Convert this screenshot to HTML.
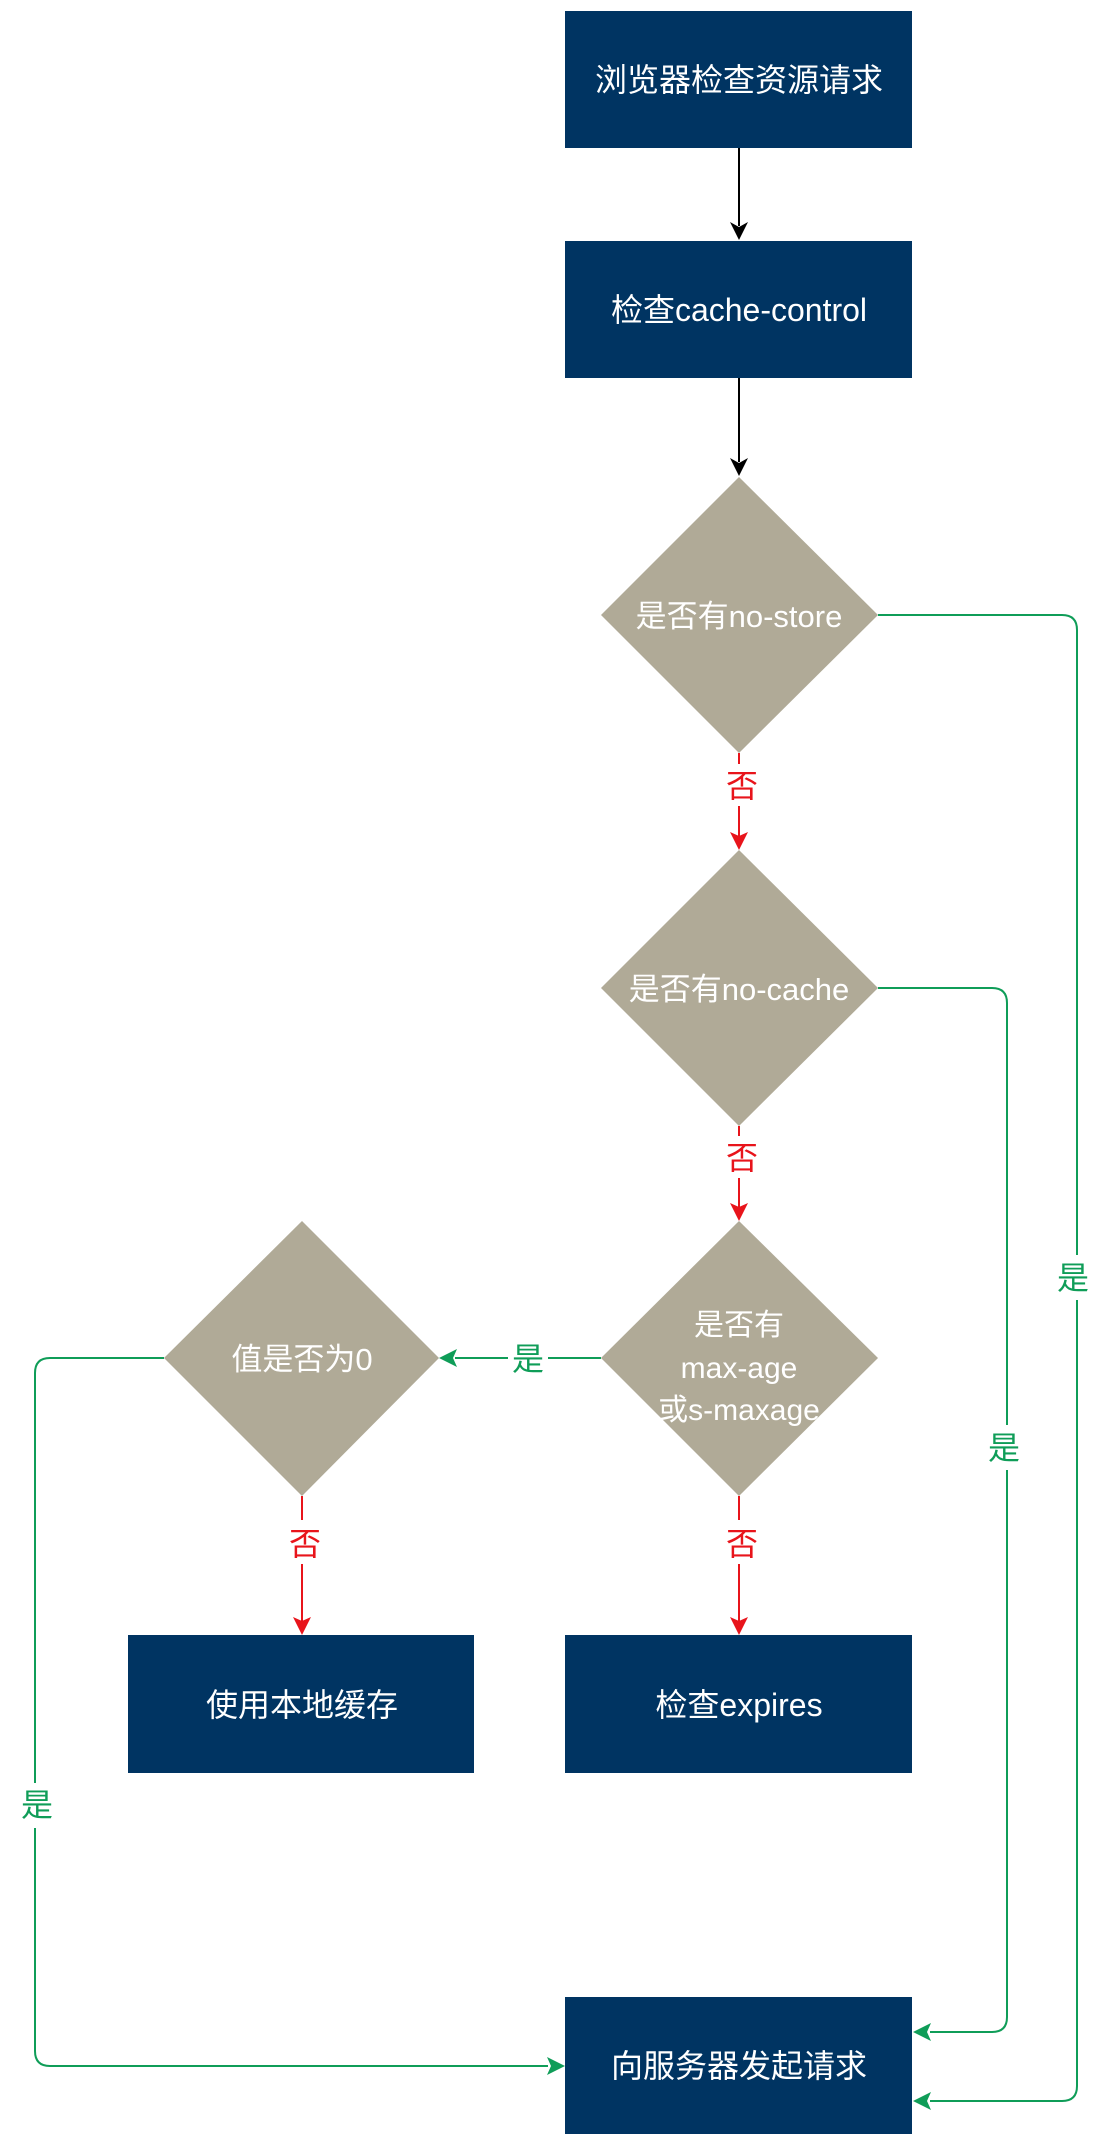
<!DOCTYPE html>
<html><head><meta charset="utf-8"><style>
html,body{margin:0;padding:0;background:#fff;}
svg{display:block;}
text{font-family:"Liberation Sans","Noto Sans CJK SC",sans-serif;}
</style></head><body>
<svg width="1098" height="2134" viewBox="0 0 1098 2134" xmlns="http://www.w3.org/2000/svg">
<g fill="#003462">
<rect x="565" y="11" width="347" height="137"/>
<rect x="565" y="241" width="347" height="137"/>
<rect x="128" y="1635" width="346" height="138"/>
<rect x="565" y="1635" width="347" height="138"/>
<rect x="565" y="1997" width="347" height="137"/>
</g>
<g fill="#b0aa97">
<polygon points="739,477 878,615 739,753 601,615"/>
<polygon points="739,850 878,988 739,1126 601,988"/>
<polygon points="739,1221 878,1358 739,1496 601,1358"/>
<polygon points="302,1221 439,1358 302,1496 164,1358"/>
</g>
<g stroke="#000" stroke-width="2" fill="none">
<line x1="739" y1="148" x2="739" y2="226"/>
<line x1="739" y1="378" x2="739" y2="462"/>
</g>
<polygon points="730,222 739,240 748,222 739,227" fill="#000"/>
<polygon points="730,458 739,476 748,458 739,463" fill="#000"/>
<g stroke="#e8141b" stroke-width="2" fill="none">
<line x1="739" y1="753" x2="739" y2="764"/><line x1="739" y1="806" x2="739" y2="836"/>
<line x1="739" y1="1126" x2="739" y2="1136"/><line x1="739" y1="1178" x2="739" y2="1207"/>
<line x1="739" y1="1496" x2="739" y2="1520"/><line x1="739" y1="1564" x2="739" y2="1621"/>
<line x1="302" y1="1496" x2="302" y2="1520"/><line x1="302" y1="1564" x2="302" y2="1621"/>
</g>
<g fill="#e8141b">
<polygon points="730,832 739,850 748,832 739,836"/>
<polygon points="730,1203 739,1221 748,1203 739,1207"/>
<polygon points="730,1617 739,1635 748,1617 739,1621"/>
<polygon points="293,1617 302,1635 311,1617 302,1621"/>
</g>
<g stroke="#0f9d58" stroke-width="2" fill="none">
<path d="M878,615 H1062 Q1077,615 1077,630 V1255"/>
<path d="M1077,1300 V2086 Q1077,2101 1062,2101 H930"/>
<path d="M878,988 H992 Q1007,988 1007,1003 V1425"/>
<path d="M1007,1470 V2017 Q1007,2032 992,2032 H930"/>
<path d="M601,1358 H548"/>
<path d="M508,1358 H455"/>
<path d="M164,1358 H50 Q35,1358 35,1373 V1783"/>
<path d="M35,1828 V2051 Q35,2066 50,2066 H548"/>
</g>
<g fill="#0f9d58">
<polygon points="913,2101 931,2092 927,2101 931,2110"/>
<polygon points="913,2032 931,2023 927,2032 931,2041"/>
<polygon points="439,1358 457,1349 453,1358 457,1367"/>
<polygon points="565,2066 547,2057 551,2066 547,2075"/>
</g>
<g fill="#fff" font-size="32" text-anchor="middle">
<text x="739" y="91">浏览器检查资源请求</text>
<text x="739" y="321">检查cache-control</text>
<text x="739" y="627" font-size="31">是否有no-store</text>
<text x="739" y="1000" font-size="31">是否有no-cache</text>
<text x="739" y="1335" font-size="30">是否有</text>
<text x="739" y="1378" font-size="30">max-age</text>
<text x="739" y="1420" font-size="30">或s-maxage</text>
<text x="302" y="1370" font-size="31">值是否为0</text>
<text x="302" y="1716">使用本地缓存</text>
<text x="739" y="1716">检查expires</text>
<text x="739" y="2077">向服务器发起请求</text>
</g>
<g fill="#e8141b" font-size="32" text-anchor="middle">
<text x="742" y="797">否</text>
<text x="742" y="1169">否</text>
<text x="742" y="1555">否</text>
<text x="305" y="1555">否</text>
</g>
<g fill="#0f9d58" font-size="32" text-anchor="middle">
<text x="528" y="1370">是</text>
<text x="1073" y="1289">是</text>
<text x="1004" y="1459">是</text>
<text x="37" y="1816">是</text>
</g>
</svg>
</body></html>
